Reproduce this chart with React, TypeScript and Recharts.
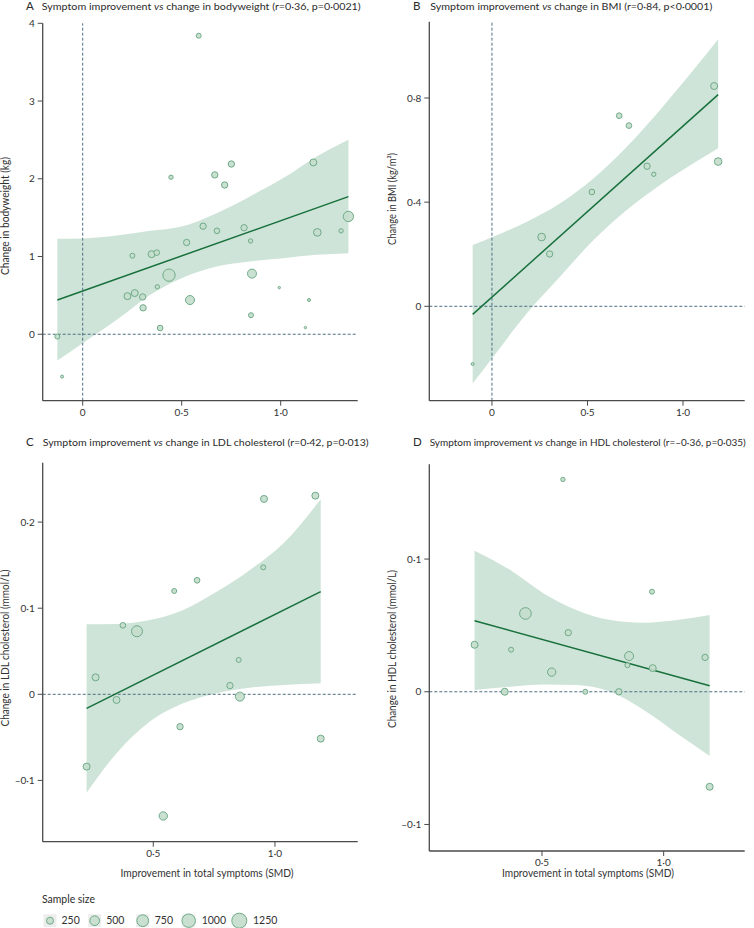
import React from 'react';
import { ComposedChart, Area, Line, Scatter, XAxis, YAxis, ZAxis, ReferenceLine } from 'recharts';

// ---- data ----
// x = improvement in total symptoms (SMD), y = change in outcome, n = sample size

const weightPoints = [
  { x: -0.128, y: -0.03, n: 150 }, { x: -0.104, y: -0.545, n: 54 }, { x: 0.586, y: 3.84, n: 150 },
  { x: 0.446, y: 2.02, n: 113 }, { x: 0.667, y: 2.05, n: 242 }, { x: 0.751, y: 2.19, n: 242 },
  { x: 0.717, y: 1.92, n: 242 }, { x: 1.165, y: 2.21, n: 295 }, { x: 1.342, y: 1.515, n: 644 },
  { x: 1.185, y: 1.31, n: 354 }, { x: 1.305, y: 1.33, n: 113 }, { x: 0.608, y: 1.39, n: 242 },
  { x: 0.678, y: 1.33, n: 193 }, { x: 0.815, y: 1.37, n: 242 }, { x: 0.848, y: 1.2, n: 113 },
  { x: 0.525, y: 1.18, n: 242 }, { x: 0.251, y: 1.01, n: 150 }, { x: 0.348, y: 1.03, n: 295 },
  { x: 0.374, y: 1.05, n: 193 }, { x: 0.436, y: 0.76, n: 917 }, { x: 0.855, y: 0.78, n: 488 },
  { x: 0.377, y: 0.61, n: 113 }, { x: 0.226, y: 0.49, n: 295 }, { x: 0.263, y: 0.53, n: 295 },
  { x: 0.303, y: 0.48, n: 242 }, { x: 0.305, y: 0.34, n: 242 }, { x: 0.542, y: 0.44, n: 488 },
  { x: 0.993, y: 0.6, n: 33 }, { x: 1.143, y: 0.44, n: 54 }, { x: 0.85, y: 0.245, n: 150 },
  { x: 1.125, y: 0.086, n: 33 }, { x: 0.391, y: 0.08, n: 193 },
];
const weightFit = [{ x: -0.128, y: 0.44 }, { x: 1.342, y: 1.77 }];
const weightBand = [
  { x: -0.128, band: [-0.339, 1.227] }, { x: 0, band: [-0.116, 1.232] }, { x: 0.172, band: [0.185, 1.27] },
  { x: 0.34, band: [0.506, 1.33] }, { x: 0.5, band: [0.721, 1.386] }, { x: 0.677, band: [0.871, 1.558] },
  { x: 0.845, band: [0.936, 1.773] }, { x: 1.013, band: [0.979, 2.009] }, { x: 1.182, band: [1.021, 2.288] },
  { x: 1.342, band: [1.043, 2.502] },
];

const bmiPoints = [
  { x: -0.101, y: -0.2215, n: 54 }, { x: 0.26, y: 0.266, n: 354 }, { x: 0.302, y: 0.201, n: 242 },
  { x: 0.523, y: 0.439, n: 193 }, { x: 0.666, y: 0.732, n: 193 }, { x: 0.717, y: 0.694, n: 193 },
  { x: 0.812, y: 0.538, n: 242 }, { x: 0.847, y: 0.507, n: 113 }, { x: 1.163, y: 0.846, n: 295 },
  { x: 1.184, y: 0.556, n: 354 },
];
const bmiFit = [{ x: -0.101, y: -0.031 }, { x: 1.184, y: 0.813 }];
const bmiBand = [
  { x: -0.101, band: [-0.296, 0.2356] }, { x: 0, band: [-0.2, 0.265] }, { x: 0.183, band: [-0.027, 0.325] },
  { x: 0.357, band: [0.114, 0.3956] }, { x: 0.532, band: [0.255, 0.4917] }, { x: 0.706, band: [0.37, 0.613] },
  { x: 0.88, band: [0.466, 0.754] }, { x: 1.055, band: [0.549, 0.908] }, { x: 1.184, band: [0.607, 1.026] },
];

const ldlPoints = [
  { x: 0.226, y: -0.084, n: 295 }, { x: 0.263, y: 0.0197, n: 295 }, { x: 0.349, y: -0.0066, n: 295 },
  { x: 0.375, y: 0.0801, n: 193 }, { x: 0.433, y: 0.0732, n: 729 }, { x: 0.541, y: -0.1413, n: 419 },
  { x: 0.586, y: 0.12, n: 150 }, { x: 0.61, y: -0.0376, n: 242 }, { x: 0.68, y: 0.1324, n: 193 },
  { x: 0.815, y: 0.0101, n: 242 }, { x: 0.851, y: 0.0399, n: 150 }, { x: 0.856, y: -0.0027, n: 488 },
  { x: 0.952, y: 0.1475, n: 150 }, { x: 0.955, y: 0.2269, n: 295 }, { x: 1.166, y: 0.2307, n: 295 },
  { x: 1.188, y: -0.0515, n: 295 },
];
const ldlFit = [{ x: 0.226, y: -0.0163 }, { x: 1.188, y: 0.1192 }];
const ldlBand = [
  { x: 0.226, band: [-0.1142, 0.0813] }, { x: 0.349, band: [-0.0685, 0.0817] }, { x: 0.486, band: [-0.0317, 0.0863] },
  { x: 0.623, band: [-0.0105, 0.098] }, { x: 0.76, band: [0.0012, 0.119] }, { x: 0.897, band: [0.0077, 0.1444] },
  { x: 1.035, band: [0.0108, 0.1754] }, { x: 1.188, band: [0.0128, 0.2265] },
];

const hdlPoints = [
  { x: 0.223, y: 0.0354, n: 295 }, { x: 0.347, y: 0.0, n: 295 }, { x: 0.373, y: 0.0317, n: 150 },
  { x: 0.432, y: 0.059, n: 820 }, { x: 0.54, y: 0.0148, n: 419 }, { x: 0.586, y: 0.16, n: 113 },
  { x: 0.608, y: 0.0445, n: 242 }, { x: 0.678, y: 0.0, n: 150 }, { x: 0.816, y: 0.0, n: 242 },
  { x: 0.851, y: 0.02, n: 150 }, { x: 0.858, y: 0.0269, n: 488 }, { x: 0.952, y: 0.0754, n: 150 },
  { x: 0.955, y: 0.0178, n: 295 }, { x: 1.17, y: 0.0259, n: 242 }, { x: 1.189, y: -0.0716, n: 295 },
];
const hdlFit = [{ x: 0.223, y: 0.0535 }, { x: 1.189, y: 0.0045 }];
const hdlBand = [
  { x: 0.223, band: [0.0013, 0.1063] }, { x: 0.37, band: [0.0038, 0.0917] }, { x: 0.507, band: [0.0055, 0.0741] },
  { x: 0.644, band: [0.005, 0.0615] }, { x: 0.781, band: [0.0, 0.054] }, { x: 0.918, band: [-0.0138, 0.052] },
  { x: 1.055, band: [-0.0314, 0.054] }, { x: 1.189, band: [-0.0485, 0.0578] },
];

const legendSizes = [250, 500, 750, 1000, 1250];

// ---- styling ----
const FONT = "Lato, 'Open Sans', sans-serif";
const AXIS = '#4a4a4a';
const BAND = '#cfe4d8';
const FIT = '#17703c';
const DOT_FILL = '#c4ddcc';
const DOT_STROKE = '#6fab88';
const REF = '#4d6f84';
const TXT = '#2b2b2b';
const MAX_AREA = 163; // symbol area (px²) at n = 1250

const dec = (v: number) => (v === 0 ? '0' : (v < 0 ? '–' : '') + Math.abs(v).toFixed(1).replace('.', '·'));
const int = (v: number) => String(v);

type PanelProps = {
  left: number; top: number; width: number; height: number;
  margin: { top: number; right: number };
  yWidth: number; xHeight: number;
  xDomain: [number, number]; yDomain: [number, number];
  xTicks: number[]; yTicks: number[];
  yFmt: (v: number) => string;
  band: any[]; fit: any[]; points: any[];
  vLine?: boolean;
};

const Panel = (p: PanelProps) => (
  <div style={{ position: 'absolute', left: p.left, top: p.top }}>
    <ComposedChart width={p.width} height={p.height} margin={{ top: p.margin.top, right: p.margin.right, left: 0, bottom: 0 }}>
      <XAxis
        type="number" dataKey="x" domain={p.xDomain} ticks={p.xTicks} allowDataOverflow
        tickFormatter={dec} height={p.xHeight} tickSize={5} tickMargin={3}
        axisLine={{ stroke: AXIS, strokeWidth: 1.3 }} tickLine={{ stroke: AXIS }}
        tick={{ fontSize: 10, fill: '#333', fontFamily: FONT }}
      />
      <YAxis
        type="number" dataKey="y" domain={p.yDomain} ticks={p.yTicks} allowDataOverflow
        tickFormatter={p.yFmt} width={p.yWidth} tickSize={5} tickMargin={3}
        axisLine={{ stroke: AXIS, strokeWidth: 1.3 }} tickLine={{ stroke: AXIS }}
        tick={{ fontSize: 10, fill: '#333', fontFamily: FONT }}
      />
      <ZAxis type="number" dataKey="n" domain={[0, 1250]} range={[0, MAX_AREA]} />
      <Area data={p.band} dataKey="band" type="monotone" stroke="none" fill={BAND} fillOpacity={1} isAnimationActive={false} dot={false} activeDot={false} />
      <ReferenceLine y={0} stroke={REF} strokeDasharray="3 2" strokeWidth={1} />
      {p.vLine && <ReferenceLine x={0} stroke={REF} strokeDasharray="3 2" strokeWidth={1} />}
      <Line data={p.fit} dataKey="y" stroke={FIT} strokeWidth={1.5} dot={false} activeDot={false} isAnimationActive={false} />
      <Scatter data={p.points} dataKey="y" fill={DOT_FILL} fillOpacity={0.9} stroke={DOT_STROKE} strokeWidth={1} isAnimationActive={false} />
    </ComposedChart>
  </div>
);

// panel heading: letter + title, sized to the width measured on the figure
const Title = ({ lx, tx, y, w, fs, letter, pre, post }: { lx: number; tx: number; y: number; w: number; fs: number; letter: string; pre: string; post: string }) => (
  <g fontFamily={FONT} fill={TXT}>
    <text x={lx} y={y} fontSize={11.5}>{letter}</text>
    <text x={tx} y={y} fontSize={fs} textLength={w} lengthAdjust="spacingAndGlyphs">
      {pre} <tspan fontStyle="italic">vs</tspan> {post}
    </text>
  </g>
);

const YLabel = ({ cx, cy, w, text }: { cx: number; cy: number; w: number; text: string }) => (
  <text transform={`translate(${cx},${cy}) rotate(-90)`} textAnchor="middle" dy="0.35em" fontSize={10.5}
    fontFamily={FONT} fill="#333" textLength={w} lengthAdjust="spacingAndGlyphs">{text}</text>
);

const XLabel = ({ cx, cy, w, text }: { cx: number; cy: number; w: number; text: string }) => (
  <text x={cx} y={cy} textAnchor="middle" dy="0.35em" fontSize={10.5} fontFamily={FONT} fill="#333"
    textLength={w} lengthAdjust="spacingAndGlyphs">{text}</text>
);

const legendX = [50, 94.7, 142.7, 188.7, 239.3];

const SizeLegend = () => (
  <g fontFamily={FONT}>
    <text x={42} y={899} dy="0.35em" fontSize={10.5} fill={TXT} textLength={53} lengthAdjust="spacingAndGlyphs">Sample size</text>
    {legendSizes.map((n, i) => {
      const r = Math.sqrt((n / 1250) * MAX_AREA / Math.PI);
      const cx = legendX[i];
      const cy = 920.7;
      return (
        <g key={n}>
          <rect x={cx - 6.5} y={cy - 6.5} width={13} height={13} fill="#ededed" />
          <circle cx={cx} cy={cy} r={r + 0.3} fill={DOT_FILL} fillOpacity={0.9} stroke={DOT_STROKE} strokeWidth={1} />
          <text x={cx + Math.max(r, 5) + 6.5} y={cy} dy="0.35em" fontSize={10.5} fill="#333">{n}</text>
        </g>
      );
    })}
  </g>
);

export default function App() {
  return (
    <div style={{ position: 'absolute', left: 0, top: 0, width: 754, height: 928, background: '#fff', overflow: 'hidden' }}>
      <Panel left={0} top={0} width={377} height={430} margin={{ top: 23.3, right: 19.3 }} yWidth={42.7} xHeight={29.3}
        xDomain={[-0.202, 1.389]} yDomain={[-0.855, 4]} xTicks={[0, 0.5, 1]} yTicks={[0, 1, 2, 3, 4]} yFmt={int}
        band={weightBand} fit={weightFit} points={weightPoints} vLine />
      <Panel left={377} top={0} width={377} height={430} margin={{ top: 21.7, right: 9.3 }} yWidth={52.3} xHeight={29.3}
        xDomain={[-0.328, 1.323]} yDomain={[-0.3625, 1.093]} xTicks={[0, 0.5, 1]} yTicks={[0, 0.4, 0.8]} yFmt={dec}
        band={bmiBand} fit={bmiFit} points={bmiPoints} vLine />
      <Panel left={0} top={430} width={377} height={460} margin={{ top: 32.7, right: 19.3 }} yWidth={42.7} xHeight={48.3}
        xDomain={[0.0456, 1.34]} yDomain={[-0.1712, 0.269]} xTicks={[0.5, 1]} yTicks={[-0.1, 0, 0.1, 0.2]} yFmt={dec}
        band={ldlBand} fit={ldlFit} points={ldlPoints} />
      <Panel left={377} top={430} width={377} height={460} margin={{ top: 34.3, right: 9.3 }} yWidth={52.3} xHeight={39}
        xDomain={[0.037, 1.333]} yDomain={[-0.12, 0.1714]} xTicks={[0.5, 1]} yTicks={[-0.1, 0, 0.1]} yFmt={dec}
        band={hdlBand} fit={hdlFit} points={hdlPoints} />

      <svg width={754} height={928} style={{ position: 'absolute', left: 0, top: 0, pointerEvents: 'none' }}>
        <Title lx={26} tx={41.7} y={10} w={319} fs={10.4} letter="A" pre="Symptom improvement" post="change in bodyweight (r=0·36, p=0·0021)" />
        <Title lx={413} tx={430.3} y={10} w={282} fs={10.4} letter="B" pre="Symptom improvement" post="change in BMI (r=0·84, p<0·0001)" />
        <Title lx={26} tx={42.7} y={445.5} w={326} fs={10} letter="C" pre="Symptom improvement" post="change in LDL cholesterol (r=0·42, p=0·013)" />
        <Title lx={413} tx={429.7} y={445.5} w={316} fs={9.6} letter="D" pre="Symptom improvement" post="change in HDL cholesterol (r=–0·36, p=0·035)" />

        <YLabel cx={5.5} cy={216} w={118} text="Change in bodyweight (kg)" />
        <YLabel cx={392.5} cy={199} w={92} text="Change in BMI (kg/m²)" />
        <YLabel cx={5.5} cy={648} w={157} text="Change in LDL cholesterol (mmol/L)" />
        <YLabel cx={392} cy={649} w={158} text="Change in HDL cholesterol (mmol/L)" />

        <XLabel cx={207} cy={873.5} w={173} text="Improvement in total symptoms (SMD)" />
        <XLabel cx={588} cy={873.5} w={172} text="Improvement in total symptoms (SMD)" />

        <SizeLegend />
      </svg>
    </div>
  );
}
